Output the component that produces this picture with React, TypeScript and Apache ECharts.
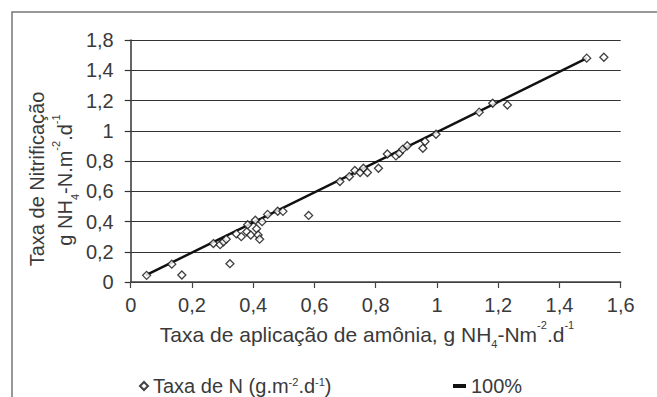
import React, { useEffect, useRef } from "react";
import * as echarts from "echarts";

const xValues = [
  0.052, 0.134, 0.167, 0.27, 0.292, 0.303, 0.312, 0.324, 0.345, 0.361, 0.379,
  0.382, 0.392, 0.407, 0.411, 0.416, 0.421, 0.429, 0.447, 0.48, 0.497, 0.581,
  0.683, 0.714, 0.732, 0.749, 0.76, 0.773, 0.809, 0.838, 0.866, 0.877, 0.888,
  0.903, 0.954, 0.961, 0.997, 1.138, 1.182, 1.23, 1.489, 1.545,
];
const yValues = [
  0.044, 0.118, 0.046, 0.254, 0.247, 0.266, 0.283, 0.121, 0.318, 0.3, 0.332,
  0.379, 0.311, 0.408, 0.352, 0.311, 0.283, 0.399, 0.447, 0.468, 0.467, 0.44,
  0.664, 0.697, 0.737, 0.724, 0.752, 0.724, 0.752, 0.846, 0.834, 0.851, 0.877,
  0.901, 0.884, 0.929, 0.977, 1.123, 1.182, 1.17, 1.48, 1.486,
];
const lineX = [0.05, 1.49];
const lineY = [0.045, 1.48];

const xTickLabels = ["0", "0,2", "0,4", "0,6", "0,8", "1", "1,2", "1,4", "1,6"];
const yTickLabels = ["0", "0,2", "0,4", "0,6", "0,8", "1", "1,2", "1,4", "1,8"];

const scatterName = "Taxa de N (g.m-2.d-1)";
const lineName = "100%";

const FONT = "Liberation Sans";
const TXT = "#3a3a3a";

export default function App() {
  const ref = useRef<HTMLDivElement>(null);
  useEffect(() => {
    const chart = echarts.init(ref.current!, null, { renderer: "svg" });
    const rich = {
      sup: { fontSize: 11, lineHeight: 13, verticalAlign: "top", fill: TXT, color: TXT, fontFamily: FONT },
      sub: { fontSize: 11, lineHeight: 13, verticalAlign: "bottom", fill: TXT, color: TXT, fontFamily: FONT },
    };
    const option: any = {
      animation: false,
      backgroundColor: "#fff",
      grid: { left: 130.7, right: 36.3, top: 40, bottom: 115 },
      xAxis: {
        type: "value",
        min: 0,
        max: 1.6,
        interval: 0.2,
        axisLine: { show: true, onZero: false, lineStyle: { color: "#444", width: 1.5 } },
        axisTick: { show: true, length: 6, lineStyle: { color: "#444", width: 1.2 } },
        axisLabel: {
          fontSize: 20,
          color: TXT,
          fontFamily: FONT,
          margin: 13,
          formatter: (v: number) => xTickLabels[Math.round(v / 0.2)] ?? "",
        },
        splitLine: { show: false },
      },
      yAxis: {
        type: "value",
        min: 0,
        max: 1.6,
        interval: 0.2,
        axisLine: { show: true, onZero: false, lineStyle: { color: "#333", width: 1.5 } },
        axisTick: { show: true, length: 6, lineStyle: { color: "#333", width: 1.2 } },
        axisLabel: {
          fontSize: 20,
          color: TXT,
          fontFamily: FONT,
          margin: 17,
          formatter: (v: number) => yTickLabels[Math.round(v / 0.2)] ?? "",
        },
        splitLine: { show: true, lineStyle: { color: "#333", width: 1.2 } },
      },
      legend: [
        {
          data: [{ name: scatterName }],
          left: 139,
          top: 376,
          itemWidth: 8,
          itemHeight: 8,
          itemGap: 0,
          padding: 0,
          formatter: () => "Taxa de N (g.m{sup|-2}.d{sup|-1})",
          textStyle: { fontSize: 20, color: TXT, fontFamily: FONT, lineHeight: 20, rich },
        },
        {
          data: [{ name: lineName, icon: "rect" }],
          left: 453,
          top: 376,
          itemWidth: 13,
          itemHeight: 4,
          padding: 0,
          textStyle: { fontSize: 20, color: TXT, fontFamily: FONT, lineHeight: 20 },
        },
      ],
      graphic: [
        {
          type: "rect",
          z: -10,
          silent: true,
          shape: { x: 12, y: 12, width: 700, height: 500 },
          style: { fill: "none", stroke: "#777", lineWidth: 1.5 },
        },
        {
          type: "text",
          x: 367,
          y: 334,
          style: {
            text: "Taxa de aplicação de amônia, g NH{sub|4}-Nm{sup|-2}.d{sup|-1}",
            fontSize: 21,
            fontFamily: FONT,
            fill: TXT,
            lineHeight: 30,
            align: "center",
            verticalAlign: "middle",
            rich,
          },
        },
        {
          type: "text",
          x: 37,
          y: 179,
          rotation: Math.PI / 2,
          style: {
            text: "Taxa de Nitrificação",
            fontSize: 20,
            fontFamily: FONT,
            fill: TXT,
            align: "center",
            verticalAlign: "middle",
          },
        },
        {
          type: "text",
          x: 65,
          y: 180,
          rotation: Math.PI / 2,
          style: {
            text: "g NH{sub|4}-N.m{sup|-2}.d{sup|-1}",
            fontSize: 20,
            fontFamily: FONT,
            fill: TXT,
            lineHeight: 30,
            align: "center",
            verticalAlign: "middle",
            rich,
          },
        },
      ],
      series: [
        {
          name: lineName,
          type: "line",
          data: lineX.map((x, i) => [x, lineY[i]]),
          symbol: "none",
          lineStyle: { color: "#111", width: 2.5 },
          itemStyle: { color: "#111" },
          z: 2,
        },
        {
          name: scatterName,
          type: "scatter",
          data: xValues.map((x, i) => [x, yValues[i]]),
          symbol: "diamond",
          symbolSize: 8,
          itemStyle: { color: "#fff", borderColor: "#111", borderWidth: 1.3 },
          z: 3,
        },
      ],
    };
    chart.setOption(option);
    return () => chart.dispose();
  }, []);
  return (
    <div
      ref={ref}
      style={{ position: "absolute", left: 0, top: 0, width: 657, height: 397, background: "#fff" }}
    />
  );
}
